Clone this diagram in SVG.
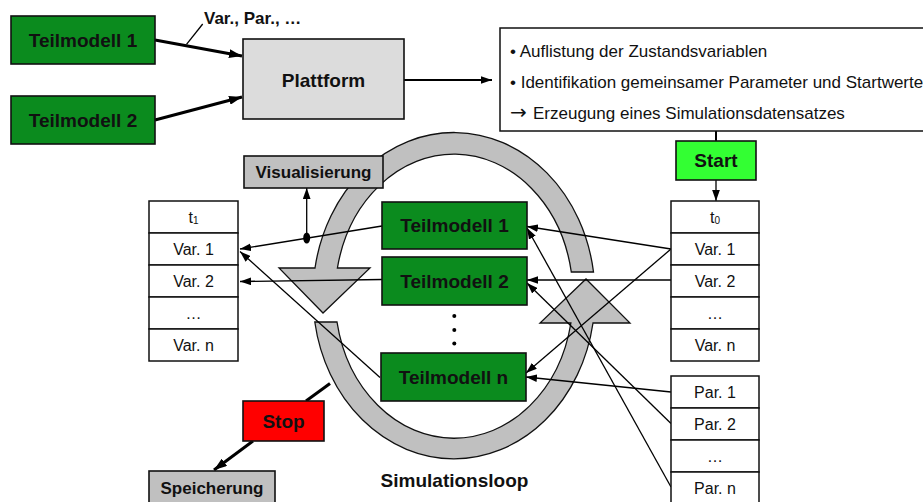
<svg xmlns="http://www.w3.org/2000/svg" width="923" height="502" viewBox="0 0 923 502">
<style>
.box{stroke:#111;stroke-width:1.6}
.green{fill:#0b8b1e}
.grey{fill:#c0c0c0}
.cell{fill:#fff;stroke:#111;stroke-width:1.5}
.b19{font-family:"Liberation Sans",Arial,sans-serif;font-weight:bold;font-size:19px;fill:#111;text-anchor:middle}
.b17{font-family:"Liberation Sans",Arial,sans-serif;font-weight:bold;font-size:17px;fill:#111;text-anchor:middle}
.t16{font-family:"Liberation Sans",Arial,sans-serif;font-size:16px;fill:#111;text-anchor:middle}
.t17{font-family:"Liberation Sans",Arial,sans-serif;font-size:17px;fill:#111}
.thin{stroke:#000;stroke-width:1.3;fill:none}
.thick{stroke:#000;stroke-width:3;fill:none}
.ring{fill:#c0c0c0;stroke:#111;stroke-width:1.3}
</style>
<defs>
<marker id="ah" viewBox="0 0 10 7" refX="10" refY="3.5" markerWidth="11" markerHeight="8" markerUnits="userSpaceOnUse" orient="auto"><path d="M0,0 L10,3.5 L0,7 z" fill="#000"/></marker>
<marker id="ahb" viewBox="0 0 13 9" refX="13" refY="4.5" markerWidth="13" markerHeight="9" markerUnits="userSpaceOnUse" orient="auto"><path d="M0,0 L13,4.5 L0,9 z" fill="#000"/></marker>
</defs>

<g id="loop">
<path class="ring" d="M 593.5 272 A 141 163 0 0 0 315 268 L 279 268 L 323 313 L 370 268 L 337.4 268 A 119 142 0 0 1 571.3 272 Z"/>
<path class="ring" d="M 314.8 322 A 141 163 0 0 0 593 323 L 630 323 L 586 279 L 540 323 L 570.9 323 A 119 142 0 0 1 337 322 Z"/>
</g>

<g id="connectors">
<line class="thick" x1="155" y1="40" x2="242" y2="56" marker-end="url(#ahb)"/>
<line class="thick" x1="155" y1="120" x2="242" y2="97" marker-end="url(#ahb)"/>
<line class="thin" x1="202.7" y1="24" x2="186.5" y2="44.3"/>
<line stroke="#000" stroke-width="2" x1="404" y1="80" x2="492" y2="80" marker-end="url(#ah)"/>
<line stroke="#000" stroke-width="2" x1="716" y1="131" x2="716" y2="141"/>
<line class="thin" x1="716" y1="180" x2="716" y2="201" marker-end="url(#ah)"/>
<line class="thin" x1="382" y1="226" x2="240" y2="249" marker-end="url(#ah)"/>
<line class="thin" x1="306.7" y1="238" x2="306.7" y2="188" marker-end="url(#ah)"/>
<ellipse cx="306.7" cy="238" rx="3.5" ry="5.5" fill="#000"/>
<line class="thin" x1="382" y1="279.5" x2="240" y2="281.5" marker-end="url(#ah)"/>
<line class="thin" x1="380" y1="377.5" x2="240" y2="251.5" marker-end="url(#ah)"/>
<line class="thin" x1="671" y1="249" x2="527" y2="226.5" marker-end="url(#ah)"/>
<line class="thin" x1="671" y1="249" x2="526" y2="373" marker-end="url(#ah)"/>
<line class="thin" x1="671" y1="280" x2="527" y2="280" marker-end="url(#ah)"/>
<line class="thin" x1="671" y1="392" x2="526" y2="377" marker-end="url(#ah)"/>
<line class="thin" x1="671" y1="423.5" x2="527" y2="283" marker-end="url(#ah)"/>
<line class="thin" x1="671" y1="487" x2="527" y2="228" marker-end="url(#ah)"/>
<line class="thick" x1="330" y1="383.5" x2="306" y2="401"/>
<line class="thick" x1="253" y1="441" x2="214" y2="470" marker-end="url(#ahb)"/>
</g>

<g id="teilmodell1-top"><rect class="box green" x="11" y="16" width="144" height="48"/><text class="b19" x="83" y="47">Teilmodell 1</text></g>
<g id="teilmodell2-top"><rect class="box green" x="11" y="96" width="144" height="48"/><text class="b19" x="83" y="127">Teilmodell 2</text></g>
<g id="label-varpar"><text class="b17" x="204" y="24" style="text-anchor:start">Var., Par., …</text></g>
<g id="plattform"><rect class="box" fill="#dcdcdc" x="243" y="39" width="161" height="80"/><text class="b19" x="323.5" y="87">Plattform</text></g>
<g id="info">
<rect fill="#fff" stroke="#111" stroke-width="1.5" x="500" y="28" width="430" height="103"/>
<text class="t17" x="510" y="57">• Auflistung der Zustandsvariablen</text>
<text class="t17" x="510" y="88">• Identifikation gemeinsamer Parameter und Startwerte</text>
<text class="t17" x="510" y="119"><tspan font-family="'DejaVu Sans',sans-serif" font-size="20">→</tspan><tspan x="533">Erzeugung eines Simulationsdatensatzes</tspan></text>
</g>
<g id="start"><rect class="box" fill="#33ff33" x="676" y="141" width="80" height="39"/><text class="b19" x="716" y="167">Start</text></g>
<g id="visualisierung"><rect class="box grey" x="244" y="156" width="139" height="32"/><text class="b17" x="313.5" y="178">Visualisierung</text></g>

<g id="table-t1">
<rect class="cell" x="149" y="201" width="89" height="32"/>
<rect class="cell" x="149" y="233" width="89" height="32"/>
<rect class="cell" x="149" y="265" width="89" height="32"/>
<rect class="cell" x="149" y="297" width="89" height="32"/>
<rect class="cell" x="149" y="329" width="89" height="32"/>
<text class="t16" x="193.5" y="223">t<tspan font-size="10" dy="1">1</tspan></text>
<text class="t16" x="193.5" y="255">Var. 1</text>
<text class="t16" x="193.5" y="287">Var. 2</text>
<text class="t16" x="193.5" y="319">…</text>
<text class="t16" x="193.5" y="351">Var. n</text>
</g>

<g id="table-t0">
<rect class="cell" x="671" y="201" width="88" height="32"/>
<rect class="cell" x="671" y="233" width="88" height="32"/>
<rect class="cell" x="671" y="265" width="88" height="32"/>
<rect class="cell" x="671" y="297" width="88" height="32"/>
<rect class="cell" x="671" y="329" width="88" height="32"/>
<text class="t16" x="715" y="223">t<tspan font-size="10" dy="1">0</tspan></text>
<text class="t16" x="715" y="255">Var. 1</text>
<text class="t16" x="715" y="287">Var. 2</text>
<text class="t16" x="715" y="319">…</text>
<text class="t16" x="715" y="351">Var. n</text>
</g>

<g id="table-par">
<rect class="cell" x="671" y="376" width="88" height="32"/>
<rect class="cell" x="671" y="408" width="88" height="32"/>
<rect class="cell" x="671" y="440" width="88" height="32"/>
<rect class="cell" x="671" y="472" width="88" height="32"/>
<text class="t16" x="715" y="398">Par. 1</text>
<text class="t16" x="715" y="430">Par. 2</text>
<text class="t16" x="715" y="462">…</text>
<text class="t16" x="715" y="494">Par. n</text>
</g>

<g id="teilmodell1"><rect class="box green" x="382" y="202" width="145" height="47"/><text class="b19" x="454.5" y="232">Teilmodell 1</text></g>
<g id="teilmodell2"><rect class="box green" x="382" y="257" width="145" height="48"/><text class="b19" x="454.5" y="288">Teilmodell 2</text></g>
<g id="dots"><circle cx="454.3" cy="316" r="2"/><circle cx="454.3" cy="330" r="2"/><circle cx="454.3" cy="343.5" r="2"/></g>
<g id="teilmodelln"><rect class="box green" x="381" y="353" width="145" height="48"/><text class="b19" x="453.5" y="384">Teilmodell n</text></g>
<g id="stop"><rect class="box" fill="#ff0000" x="243" y="401" width="81" height="40"/><text class="b19" x="283.5" y="428">Stop</text></g>
<g id="speicherung"><rect class="box grey" x="149" y="471" width="126" height="33"/><text class="b17" x="212" y="494">Speicherung</text></g>
<g id="simloop-label"><text class="b19" x="454.5" y="487">Simulationsloop</text></g>
</svg>
